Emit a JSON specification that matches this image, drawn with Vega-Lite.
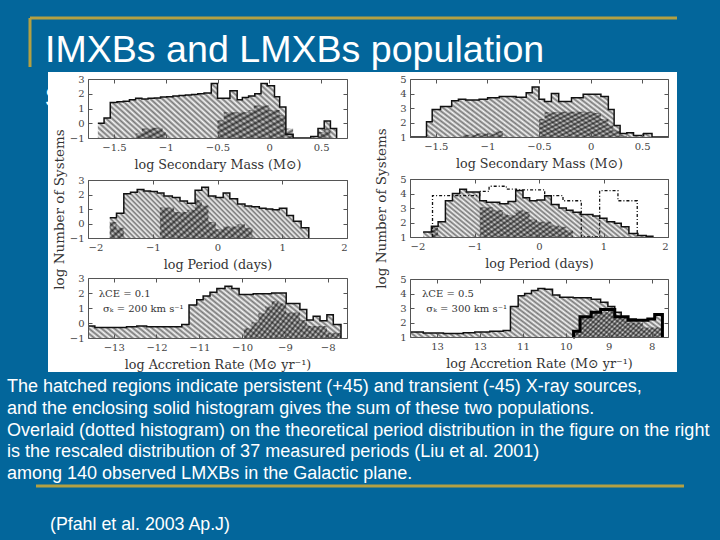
{"$schema":"https://vega.github.io/schema/vega-lite/v6.json","width":720,"height":540,"padding":0,"autosize":{"type":"none"},"background":"#03669b",
"config":{"view":{"stroke":null},"axis":{"grid":false,"labelFont":"DejaVu Serif","labelFontSize":10,"labelColor":"#444","titleFont":"DejaVu Serif","titleFontSize":12.7,"titleFontWeight":"normal","titleColor":"#333","domainColor":"#555","tickColor":"#555","tickSize":-4,"labelPadding":8},
"style":{"persist":{"opacity":1,"color":{"gradient":"linear","x1":0,"y1":1,"x2":1.18,"y2":0.7,"stops":[{"offset":0,"color":"#777"},{"offset":0.01,"color":"#f5f5f5"},{"offset":0.02,"color":"#777"},{"offset":0.03,"color":"#f5f5f5"},{"offset":0.04,"color":"#777"},{"offset":0.05,"color":"#f5f5f5"},{"offset":0.06,"color":"#777"},{"offset":0.07,"color":"#f5f5f5"},{"offset":0.08,"color":"#777"},{"offset":0.09,"color":"#f5f5f5"},{"offset":0.1,"color":"#777"},{"offset":0.11,"color":"#f5f5f5"},{"offset":0.12,"color":"#777"},{"offset":0.13,"color":"#f5f5f5"},{"offset":0.14,"color":"#777"},{"offset":0.15,"color":"#f5f5f5"},{"offset":0.16,"color":"#777"},{"offset":0.17,"color":"#f5f5f5"},{"offset":0.18,"color":"#777"},{"offset":0.19,"color":"#f5f5f5"},{"offset":0.2,"color":"#777"},{"offset":0.21,"color":"#f5f5f5"},{"offset":0.22,"color":"#777"},{"offset":0.23,"color":"#f5f5f5"},{"offset":0.24,"color":"#777"},{"offset":0.25,"color":"#f5f5f5"},{"offset":0.26,"color":"#777"},{"offset":0.27,"color":"#f5f5f5"},{"offset":0.28,"color":"#777"},{"offset":0.29,"color":"#f5f5f5"},{"offset":0.3,"color":"#777"},{"offset":0.31,"color":"#f5f5f5"},{"offset":0.32,"color":"#777"},{"offset":0.33,"color":"#f5f5f5"},{"offset":0.34,"color":"#777"},{"offset":0.35,"color":"#f5f5f5"},{"offset":0.36,"color":"#777"},{"offset":0.37,"color":"#f5f5f5"},{"offset":0.38,"color":"#777"},{"offset":0.39,"color":"#f5f5f5"},{"offset":0.4,"color":"#777"},{"offset":0.41,"color":"#f5f5f5"},{"offset":0.42,"color":"#777"},{"offset":0.43,"color":"#f5f5f5"},{"offset":0.44,"color":"#777"},{"offset":0.45,"color":"#f5f5f5"},{"offset":0.46,"color":"#777"},{"offset":0.47,"color":"#f5f5f5"},{"offset":0.48,"color":"#777"},{"offset":0.49,"color":"#f5f5f5"},{"offset":0.5,"color":"#777"},{"offset":0.51,"color":"#f5f5f5"},{"offset":0.52,"color":"#777"},{"offset":0.53,"color":"#f5f5f5"},{"offset":0.54,"color":"#777"},{"offset":0.55,"color":"#f5f5f5"},{"offset":0.56,"color":"#777"},{"offset":0.57,"color":"#f5f5f5"},{"offset":0.58,"color":"#777"},{"offset":0.59,"color":"#f5f5f5"},{"offset":0.6,"color":"#777"},{"offset":0.61,"color":"#f5f5f5"},{"offset":0.62,"color":"#777"},{"offset":0.63,"color":"#f5f5f5"},{"offset":0.64,"color":"#777"},{"offset":0.65,"color":"#f5f5f5"},{"offset":0.66,"color":"#777"},{"offset":0.67,"color":"#f5f5f5"},{"offset":0.68,"color":"#777"},{"offset":0.69,"color":"#f5f5f5"},{"offset":0.7,"color":"#777"},{"offset":0.71,"color":"#f5f5f5"},{"offset":0.72,"color":"#777"},{"offset":0.73,"color":"#f5f5f5"},{"offset":0.74,"color":"#777"},{"offset":0.75,"color":"#f5f5f5"},{"offset":0.76,"color":"#777"},{"offset":0.77,"color":"#f5f5f5"},{"offset":0.78,"color":"#777"},{"offset":0.79,"color":"#f5f5f5"},{"offset":0.8,"color":"#777"},{"offset":0.81,"color":"#f5f5f5"},{"offset":0.82,"color":"#777"},{"offset":0.83,"color":"#f5f5f5"},{"offset":0.84,"color":"#777"},{"offset":0.85,"color":"#f5f5f5"},{"offset":0.86,"color":"#777"},{"offset":0.87,"color":"#f5f5f5"},{"offset":0.88,"color":"#777"},{"offset":0.89,"color":"#f5f5f5"},{"offset":0.9,"color":"#777"},{"offset":0.91,"color":"#f5f5f5"},{"offset":0.92,"color":"#777"},{"offset":0.93,"color":"#f5f5f5"},{"offset":0.94,"color":"#777"},{"offset":0.95,"color":"#f5f5f5"},{"offset":0.96,"color":"#777"},{"offset":0.97,"color":"#f5f5f5"},{"offset":0.98,"color":"#777"},{"offset":0.99,"color":"#f5f5f5"},{"offset":1,"color":"#777"}]}},
"trans":{"opacity":1,"color":{"gradient":"linear","x1":0,"y1":0,"x2":1.19,"y2":0.36,"stops":[{"offset":0,"color":"rgba(0,0,0,0.65)"},{"offset":0.02,"color":"rgba(0,0,0,0.1)"},{"offset":0.04,"color":"rgba(0,0,0,0.65)"},{"offset":0.06,"color":"rgba(0,0,0,0.1)"},{"offset":0.08,"color":"rgba(0,0,0,0.65)"},{"offset":0.1,"color":"rgba(0,0,0,0.1)"},{"offset":0.12,"color":"rgba(0,0,0,0.65)"},{"offset":0.14,"color":"rgba(0,0,0,0.1)"},{"offset":0.16,"color":"rgba(0,0,0,0.65)"},{"offset":0.18,"color":"rgba(0,0,0,0.1)"},{"offset":0.2,"color":"rgba(0,0,0,0.65)"},{"offset":0.22,"color":"rgba(0,0,0,0.1)"},{"offset":0.24,"color":"rgba(0,0,0,0.65)"},{"offset":0.26,"color":"rgba(0,0,0,0.1)"},{"offset":0.28,"color":"rgba(0,0,0,0.65)"},{"offset":0.3,"color":"rgba(0,0,0,0.1)"},{"offset":0.32,"color":"rgba(0,0,0,0.65)"},{"offset":0.34,"color":"rgba(0,0,0,0.1)"},{"offset":0.36,"color":"rgba(0,0,0,0.65)"},{"offset":0.38,"color":"rgba(0,0,0,0.1)"},{"offset":0.4,"color":"rgba(0,0,0,0.65)"},{"offset":0.42,"color":"rgba(0,0,0,0.1)"},{"offset":0.44,"color":"rgba(0,0,0,0.65)"},{"offset":0.46,"color":"rgba(0,0,0,0.1)"},{"offset":0.48,"color":"rgba(0,0,0,0.65)"},{"offset":0.5,"color":"rgba(0,0,0,0.1)"},{"offset":0.52,"color":"rgba(0,0,0,0.65)"},{"offset":0.54,"color":"rgba(0,0,0,0.1)"},{"offset":0.56,"color":"rgba(0,0,0,0.65)"},{"offset":0.58,"color":"rgba(0,0,0,0.1)"},{"offset":0.6,"color":"rgba(0,0,0,0.65)"},{"offset":0.62,"color":"rgba(0,0,0,0.1)"},{"offset":0.64,"color":"rgba(0,0,0,0.65)"},{"offset":0.66,"color":"rgba(0,0,0,0.1)"},{"offset":0.68,"color":"rgba(0,0,0,0.65)"},{"offset":0.7,"color":"rgba(0,0,0,0.1)"},{"offset":0.72,"color":"rgba(0,0,0,0.65)"},{"offset":0.74,"color":"rgba(0,0,0,0.1)"},{"offset":0.76,"color":"rgba(0,0,0,0.65)"},{"offset":0.78,"color":"rgba(0,0,0,0.1)"},{"offset":0.8,"color":"rgba(0,0,0,0.65)"},{"offset":0.82,"color":"rgba(0,0,0,0.1)"},{"offset":0.84,"color":"rgba(0,0,0,0.65)"},{"offset":0.86,"color":"rgba(0,0,0,0.1)"},{"offset":0.88,"color":"rgba(0,0,0,0.65)"},{"offset":0.9,"color":"rgba(0,0,0,0.1)"},{"offset":0.92,"color":"rgba(0,0,0,0.65)"},{"offset":0.94,"color":"rgba(0,0,0,0.1)"},{"offset":0.96,"color":"rgba(0,0,0,0.65)"},{"offset":0.98,"color":"rgba(0,0,0,0.1)"},{"offset":1,"color":"rgba(0,0,0,0.65)"}]}}}},
"datasets":{
"one":[{"k":1}],
"body":[{"line":1,"text":"The hatched regions indicate persistent (+45) and transient (-45) X-ray sources,"},{"line":2,"text":"and the enclosing solid histogram gives the sum of these two populations."},{"line":3,"text":"Overlaid (dotted histogram) on the theoretical period distribution in the figure on the right"},{"line":4,"text":"is the rescaled distribution of 37 measured periods (Liu et al. 2001)"},{"line":5,"text":"among 140 observed LMXBs in the Galactic plane."}],
"p1s":[{"x":-1.655,"y":0},{"x":-1.595,"y":0.35},{"x":-1.535,"y":1.4},{"x":-1.47,"y":1.45},{"x":-1.41,"y":1.5},{"x":-1.35,"y":1.6},{"x":-1.29,"y":1.7},{"x":-1.23,"y":1.65},{"x":-1.17,"y":1.7},{"x":-1.11,"y":1.72},{"x":-1.05,"y":1.78},{"x":-0.99,"y":1.8},{"x":-0.93,"y":1.85},{"x":-0.87,"y":1.88},{"x":-0.81,"y":1.92},{"x":-0.75,"y":1.95},{"x":-0.69,"y":2},{"x":-0.63,"y":2.05},{"x":-0.56,"y":2.7},{"x":-0.5,"y":1.7},{"x":-0.38,"y":2.2},{"x":-0.31,"y":1.6},{"x":-0.26,"y":1.75},{"x":-0.2,"y":1.85},{"x":-0.14,"y":2},{"x":-0.08,"y":2.7},{"x":-0.02,"y":2.55},{"x":0.05,"y":1.8},{"x":0.1,"y":1.1},{"x":0.16,"y":-0.75},{"x":0.23,"y":-1},{"x":0.4,"y":-0.9},{"x":0.47,"y":-0.35},{"x":0.53,"y":0.15},{"x":0.59,"y":-0.35},{"x":0.65,"y":-1}],
"p1t":[{"x":-1.29,"y":-0.7},{"x":-1.23,"y":-0.35},{"x":-1.13,"y":-0.3},{"x":-1.03,"y":-0.6},{"x":-1,"y":-1},{"x":-0.5,"y":0.2},{"x":-0.44,"y":0.75},{"x":-0.2,"y":0.9},{"x":-0.15,"y":1.2},{"x":0,"y":0.9},{"x":0.1,"y":0.55},{"x":0.16,"y":-0.35},{"x":0.23,"y":-1},{"x":0.47,"y":-0.6},{"x":0.53,"y":-0.35},{"x":0.59,"y":-1}],
"p2s":[{"x":-1.664,"y":0.4},{"x":-1.56,"y":0.7},{"x":-1.447,"y":2.05},{"x":-1.344,"y":2.15},{"x":-1.24,"y":2.35},{"x":-1.137,"y":2.25},{"x":-1.034,"y":2.2},{"x":-0.93,"y":2.1},{"x":-0.827,"y":1.9},{"x":-0.698,"y":1.8},{"x":-0.579,"y":1.55},{"x":-0.465,"y":1.4},{"x":-0.346,"y":2.3},{"x":-0.243,"y":2.5},{"x":-0.14,"y":1.9},{"x":-0.026,"y":1.8},{"x":0.088,"y":2.1},{"x":0.19,"y":1.7},{"x":0.31,"y":1.35},{"x":0.424,"y":1.2},{"x":0.527,"y":1.15},{"x":0.646,"y":1.05},{"x":0.749,"y":1},{"x":0.853,"y":0.95},{"x":0.956,"y":1.05},{"x":1.07,"y":0.55},{"x":1.173,"y":0.15},{"x":1.292,"y":-0.3},{"x":1.41,"y":-1}],
"p2t":[{"x":-1.664,"y":0.1},{"x":-1.56,"y":-0.3},{"x":-1.447,"y":-1},{"x":-0.89,"y":1.1},{"x":-0.67,"y":0.8},{"x":-0.465,"y":0.95},{"x":-0.346,"y":1.6},{"x":-0.243,"y":1.25},{"x":-0.14,"y":0.1},{"x":-0.026,"y":-0.4},{"x":0.088,"y":-0.2},{"x":0.31,"y":-0.05},{"x":0.424,"y":-0.3},{"x":0.54,"y":-1}],
"p3s":[{"x":-13.6,"y":-0.2},{"x":-13.44,"y":-0.3},{"x":-12.7,"y":-0.25},{"x":-12.46,"y":-0.2},{"x":-12.23,"y":-0.25},{"x":-11.41,"y":-0.1},{"x":-11.24,"y":1.2},{"x":-11.06,"y":1.55},{"x":-10.91,"y":1.8},{"x":-10.75,"y":2.05},{"x":-10.59,"y":2.3},{"x":-10.4,"y":2.45},{"x":-10.24,"y":2.3},{"x":-10.07,"y":1.9},{"x":-9.74,"y":1.95},{"x":-9.31,"y":2},{"x":-8.97,"y":1.3},{"x":-8.65,"y":0.9},{"x":-8.49,"y":0.2},{"x":-8.34,"y":0.45},{"x":-8.18,"y":0.15},{"x":-8.02,"y":0.55},{"x":-7.87,"y":-0.1},{"x":-7.69,"y":-1}],
"p3t":[{"x":-9.96,"y":-0.35},{"x":-9.78,"y":0.05},{"x":-9.62,"y":0.65},{"x":-9.46,"y":1.1},{"x":-9.31,"y":1.45},{"x":-9.15,"y":1.3},{"x":-8.97,"y":0.7},{"x":-8.65,"y":0.2},{"x":-8.49,"y":-0.2},{"x":-8.02,"y":-0.65},{"x":-7.69,"y":-1}],
"p4s":[{"x":-1.75,"y":1},{"x":-1.59,"y":2.05},{"x":-1.535,"y":2.9},{"x":-1.454,"y":3.1},{"x":-1.346,"y":3.5},{"x":-1.281,"y":3.6},{"x":-1.21,"y":3.55},{"x":-1.08,"y":3.6},{"x":-0.998,"y":3.7},{"x":-0.885,"y":3.8},{"x":-0.722,"y":3.75},{"x":-0.624,"y":4.05},{"x":-0.566,"y":4.45},{"x":-0.5,"y":3.6},{"x":-0.446,"y":3.45},{"x":-0.38,"y":4},{"x":-0.309,"y":3.45},{"x":-0.185,"y":3.7},{"x":-0.072,"y":3.95},{"x":0.1,"y":3.8},{"x":0.172,"y":2.9},{"x":0.228,"y":1.8},{"x":0.286,"y":1.25},{"x":0.351,"y":1.3},{"x":0.416,"y":1.1},{"x":0.514,"y":1.25},{"x":0.595,"y":1},{"x":0.75,"y":1}],
"p4t":[{"x":-1.24,"y":1.15},{"x":-1.11,"y":1.25},{"x":-0.92,"y":1.4},{"x":-0.85,"y":1},{"x":-0.5,"y":2.25},{"x":-0.446,"y":2.7},{"x":-0.3,"y":2.75},{"x":0.04,"y":2.65},{"x":0.1,"y":2.25},{"x":0.172,"y":1.85},{"x":0.22,"y":1.45},{"x":0.286,"y":1.1},{"x":0.351,"y":1}],
"p5s":[{"x":-1.797,"y":1.35},{"x":-1.668,"y":1.75},{"x":-1.564,"y":2.05},{"x":-1.451,"y":3.5},{"x":-1.342,"y":4},{"x":-1.229,"y":4.3},{"x":-1.125,"y":4.1},{"x":-0.919,"y":3.5},{"x":-0.816,"y":3.4},{"x":-0.609,"y":3.3},{"x":-0.48,"y":3.45},{"x":-0.361,"y":4.2},{"x":-0.248,"y":3.7},{"x":-0.145,"y":3.5},{"x":-0.031,"y":3.55},{"x":0.088,"y":3.85},{"x":0.191,"y":3.25},{"x":0.31,"y":3},{"x":0.423,"y":2.85},{"x":0.527,"y":2.7},{"x":0.64,"y":2.55},{"x":0.836,"y":2.45},{"x":0.94,"y":2.3},{"x":1.053,"y":2.05},{"x":1.172,"y":1.95},{"x":1.275,"y":1.7},{"x":1.394,"y":1.25},{"x":1.533,"y":1.1},{"x":1.662,"y":1.05},{"x":1.766,"y":1}],
"p5t":[{"x":-1.668,"y":1.7},{"x":-1.564,"y":1},{"x":-0.919,"y":3.05},{"x":-0.712,"y":2.85},{"x":-0.558,"y":2.55},{"x":-0.48,"y":2.5},{"x":-0.361,"y":2.85},{"x":-0.248,"y":2.75},{"x":-0.145,"y":2.2},{"x":-0.031,"y":2.05},{"x":0.191,"y":1.8},{"x":0.31,"y":1.7},{"x":0.423,"y":1.45},{"x":0.527,"y":1}],
"p5o":[{"x":-1.652,"y":1},{"x":-1.651,"y":3.85},{"x":-0.919,"y":4.15},{"x":-0.774,"y":4.5},{"x":-0.506,"y":4.3},{"x":-0.351,"y":4.25},{"x":0.088,"y":3.85},{"x":0.372,"y":3.5},{"x":0.656,"y":1},{"x":0.94,"y":4.2},{"x":1.224,"y":3.5},{"x":1.523,"y":1}],
"p6s":[{"x":-13.63,"y":1.35},{"x":-13.32,"y":1.28},{"x":-12.85,"y":1.25},{"x":-12.39,"y":1.3},{"x":-12.12,"y":1.35},{"x":-11.77,"y":1.4},{"x":-11.46,"y":1.45},{"x":-11.29,"y":3.1},{"x":-11.11,"y":3.85},{"x":-10.96,"y":4},{"x":-10.8,"y":4.2},{"x":-10.65,"y":4.35},{"x":-10.49,"y":4.3},{"x":-10.31,"y":3.9},{"x":-10.14,"y":3.75},{"x":-9.83,"y":3.7},{"x":-9.41,"y":3.6},{"x":-9.19,"y":3.4},{"x":-9.02,"y":3.1},{"x":-8.86,"y":2.7},{"x":-8.71,"y":2.4},{"x":-8.55,"y":2.25},{"x":-8.36,"y":2.15},{"x":-8.09,"y":2.25},{"x":-7.93,"y":2.55},{"x":-7.75,"y":1}],
"p6t":[{"x":-9.83,"y":1.4},{"x":-9.67,"y":2.35},{"x":-9.41,"y":2.7},{"x":-9.02,"y":2.9},{"x":-8.86,"y":2.4},{"x":-8.55,"y":2},{"x":-8.2,"y":1.65},{"x":-7.75,"y":1}],
"p6b":[{"x":-9.83,"y":1},{"x":-9.82,"y":1.4},{"x":-9.67,"y":2.4},{"x":-9.41,"y":2.7},{"x":-9.19,"y":2.9},{"x":-8.86,"y":2.4},{"x":-8.55,"y":2.15},{"x":-8.09,"y":2.25},{"x":-7.93,"y":2.55},{"x":-7.75,"y":1}]
},
"data":{"name":"one"},
"resolve":{"scale":{"x":"independent","y":"independent"}},
"layer":[
{"encoding":{"x":{"datum":45,"type":"quantitative","scale":{"domain":[0,720],"range":[0,720]},"axis":null},"y":{"datum":62,"type":"quantitative","scale":{"domain":[0,540],"range":[0,540]},"axis":null}},
"layer":[
{"mark":{"type":"text","text":"IMXBs and LMXBs population","font":"Liberation Sans","fontSize":37.6,"color":"#fff","align":"left","baseline":"alphabetic"}},
{"mark":{"type":"text","text":"s","font":"Liberation Sans","fontSize":37.6,"color":"#fff","align":"left","baseline":"alphabetic"},"encoding":{"y":{"datum":107,"type":"quantitative"}}},
{"mark":{"type":"rect","fill":"#fff"},"encoding":{"x":{"datum":48,"type":"quantitative"},"x2":{"datum":677},"y":{"datum":72,"type":"quantitative"},"y2":{"datum":372}}},
{"mark":{"type":"rule","color":"#b3a043","strokeWidth":3},"encoding":{"x":{"datum":30,"type":"quantitative"},"x2":{"datum":677},"y":{"datum":18,"type":"quantitative"}}},
{"mark":{"type":"rule","color":"#b3a043","strokeWidth":3},"encoding":{"x":{"datum":30,"type":"quantitative"},"y":{"datum":18,"type":"quantitative"},"y2":{"datum":67}}},
{"mark":{"type":"rule","color":"#b3a043","strokeWidth":3},"encoding":{"x":{"datum":36,"type":"quantitative"},"x2":{"datum":684},"y":{"datum":486,"type":"quantitative"}}},
{"mark":{"type":"text","text":"(Pfahl et al. 2003 Ap.J)","font":"Liberation Sans","fontSize":17.8,"color":"#fff","align":"left","baseline":"middle"},"encoding":{"x":{"datum":50,"type":"quantitative"},"y":{"datum":525,"type":"quantitative"}}}
]},
{"data":{"name":"body"},"mark":{"type":"text","font":"Liberation Sans","fontSize":18,"color":"#fff","align":"left","baseline":"middle"},"encoding":{"x":{"datum":7,"type":"quantitative","scale":{"domain":[0,720],"range":[0,720]},"axis":null},"y":{"field":"line","type":"quantitative","scale":{"domain":[1,5],"range":[387,474]},"axis":null},"text":{"field":"text"}}},

{"encoding":{"x":{"field":"x","type":"quantitative","scale":{"domain":[-1.75,0.75],"range":[88,347]},"axis":{"zindex":1,"orient":"bottom","offset":-402,"title":"log Secondary Mass (M⊙)","titlePadding":6,"values":[-1.5,-1,-0.5,0,0.5],"format":"~g"}},"y":{"field":"y","type":"quantitative","scale":{"domain":[-1,3],"range":[138,79]},"axis":{"zindex":1,"orient":"left","offset":-88,"title":null,"values":[-1,0,1,2,3]}}},
"layer":[{"data":{"name":"p1s"},"mark":{"type":"area","interpolate":"step-after","style":"persist"},"encoding":{"y2":{"datum":-1}}},{"data":{"name":"p1t"},"mark":{"type":"area","interpolate":"step-after","style":"trans"},"encoding":{"y2":{"datum":-1}}},{"data":{"name":"p1s"},"mark":{"type":"line","interpolate":"step-after","color":"#111","strokeWidth":1.5}}]},
{"mark":{"type":"point","opacity":0},"encoding":{"x":{"datum":0,"type":"quantitative","scale":{"domain":[-1.75,0.75],"range":[88,347]},"axis":{"zindex":1,"orient":"top","offset":-79,"title":null,"labels":false,"values":[-1.5,-1,-0.5,0,0.5]}},"y":{"datum":0,"type":"quantitative","scale":{"domain":[-1,3],"range":[138,79]},"axis":{"zindex":1,"orient":"right","offset":-373,"title":null,"labels":false,"values":[-1,0,1,2,3]}}}},

{"encoding":{"x":{"field":"x","type":"quantitative","scale":{"domain":[-2,2],"range":[88,347]},"axis":{"zindex":1,"orient":"bottom","offset":-302,"title":"log Period (days)","titlePadding":6,"values":[-2,-1,0,1,2]}},"y":{"field":"y","type":"quantitative","scale":{"domain":[-1,3],"range":[238,180]},"axis":{"zindex":1,"orient":"left","offset":-88,"title":"log Number of Systems","titleFontSize":13.5,"titlePadding":3,"values":[-1,0,1,2,3]}}},
"layer":[{"data":{"name":"p2s"},"mark":{"type":"area","interpolate":"step-after","style":"persist"},"encoding":{"y2":{"datum":-1}}},{"data":{"name":"p2t"},"mark":{"type":"area","interpolate":"step-after","style":"trans"},"encoding":{"y2":{"datum":-1}}},{"data":{"name":"p2s"},"mark":{"type":"line","interpolate":"step-after","color":"#111","strokeWidth":1.5}}]},
{"mark":{"type":"point","opacity":0},"encoding":{"x":{"datum":0,"type":"quantitative","scale":{"domain":[-2,2],"range":[88,347]},"axis":{"zindex":1,"orient":"top","offset":-180,"title":null,"labels":false,"values":[-2,-1,0,1,2]}},"y":{"datum":0,"type":"quantitative","scale":{"domain":[-1,3],"range":[238,180]},"axis":{"zindex":1,"orient":"right","offset":-373,"title":null,"labels":false,"values":[-1,0,1,2,3]}}}},

{"encoding":{"x":{"field":"x","type":"quantitative","scale":{"domain":[-13.6,-7.55],"range":[88,347]},"axis":{"zindex":1,"orient":"bottom","offset":-202,"title":"log Accretion Rate (M⊙ yr⁻¹)","titlePadding":6,"values":[-13,-12,-11,-10,-9,-8]}},"y":{"field":"y","type":"quantitative","scale":{"domain":[-1,3],"range":[338,278]},"axis":{"zindex":1,"orient":"left","offset":-88,"title":null,"values":[-1,0,1,2,3]}}},
"layer":[{"data":{"name":"p3s"},"mark":{"type":"area","interpolate":"step-after","style":"persist"},"encoding":{"y2":{"datum":-1}}},{"data":{"name":"p3t"},"mark":{"type":"area","interpolate":"step-after","style":"trans"},"encoding":{"y2":{"datum":-1}}},{"data":{"name":"p3s"},"mark":{"type":"line","interpolate":"step-after","color":"#111","strokeWidth":1.5}}]},
{"mark":{"type":"point","opacity":0},"encoding":{"x":{"datum":-10,"type":"quantitative","scale":{"domain":[-13.6,-7.55],"range":[88,347]},"axis":{"zindex":1,"orient":"top","offset":-278,"title":null,"labels":false,"values":[-13,-12,-11,-10,-9,-8]}},"y":{"datum":0,"type":"quantitative","scale":{"domain":[-1,3],"range":[338,278]},"axis":{"zindex":1,"orient":"right","offset":-373,"title":null,"labels":false,"values":[-1,0,1,2,3]}}}},
{"mark":{"type":"text","text":"λCE = 0.1","font":"DejaVu Serif","fontSize":10,"color":"#333","align":"left"},"encoding":{"x":{"datum":-13.35,"type":"quantitative","scale":{"domain":[-13.6,-7.55],"range":[88,347]},"axis":null},"y":{"datum":1.93,"type":"quantitative","scale":{"domain":[-1,3],"range":[338,278]},"axis":null}}},
{"mark":{"type":"text","text":"σₖ = 200 km s⁻¹","font":"DejaVu Serif","fontSize":10,"color":"#333","align":"left"},"encoding":{"x":{"datum":-13.25,"type":"quantitative","scale":{"domain":[-13.6,-7.55],"range":[88,347]},"axis":null},"y":{"datum":0.93,"type":"quantitative","scale":{"domain":[-1,3],"range":[338,278]},"axis":null}}},

{"encoding":{"x":{"field":"x","type":"quantitative","scale":{"domain":[-1.75,0.75],"range":[410,668]},"axis":{"zindex":1,"orient":"bottom","offset":-403,"title":"log Secondary Mass (M⊙)","titlePadding":6,"values":[-1.5,-1,-0.5,0,0.5],"format":"~g"}},"y":{"field":"y","type":"quantitative","scale":{"domain":[1,5],"range":[137,79]},"axis":{"zindex":1,"orient":"left","offset":-410,"title":null,"values":[1,2,3,4,5]}}},
"layer":[{"data":{"name":"p4s"},"mark":{"type":"area","interpolate":"step-after","style":"persist"},"encoding":{"y2":{"datum":1}}},{"data":{"name":"p4t"},"mark":{"type":"area","interpolate":"step-after","style":"trans"},"encoding":{"y2":{"datum":1}}},{"data":{"name":"p4s"},"mark":{"type":"line","interpolate":"step-after","color":"#111","strokeWidth":1.5}}]},
{"mark":{"type":"point","opacity":0},"encoding":{"x":{"datum":0,"type":"quantitative","scale":{"domain":[-1.75,0.75],"range":[410,668]},"axis":{"zindex":1,"orient":"top","offset":-79,"title":null,"labels":false,"values":[-1.5,-1,-0.5,0,0.5]}},"y":{"datum":3,"type":"quantitative","scale":{"domain":[1,5],"range":[137,79]},"axis":{"zindex":1,"orient":"right","offset":-52,"title":null,"labels":false,"values":[1,2,3,4,5]}}}},

{"encoding":{"x":{"field":"x","type":"quantitative","scale":{"domain":[-2,2],"range":[410,668]},"axis":{"zindex":1,"orient":"bottom","offset":-303,"title":"log Period (days)","titlePadding":6,"values":[-2,-1,0,1,2]}},"y":{"field":"y","type":"quantitative","scale":{"domain":[1,5],"range":[237,179]},"axis":{"zindex":1,"orient":"left","offset":-410,"title":"log Number of Systems","titleFontSize":13.5,"titlePadding":11,"values":[1,2,3,4,5]}}},
"layer":[{"data":{"name":"p5s"},"mark":{"type":"area","interpolate":"step-after","style":"persist"},"encoding":{"y2":{"datum":1}}},{"data":{"name":"p5t"},"mark":{"type":"area","interpolate":"step-after","style":"trans"},"encoding":{"y2":{"datum":1}}},{"data":{"name":"p5s"},"mark":{"type":"line","interpolate":"step-after","color":"#111","strokeWidth":1.5}},{"data":{"name":"p5o"},"mark":{"type":"line","interpolate":"step-after","color":"#111","strokeWidth":1.3,"strokeDash":[3,2,1,2]}}]},
{"mark":{"type":"point","opacity":0},"encoding":{"x":{"datum":0,"type":"quantitative","scale":{"domain":[-2,2],"range":[410,668]},"axis":{"zindex":1,"orient":"top","offset":-179,"title":null,"labels":false,"values":[-2,-1,0,1,2]}},"y":{"datum":3,"type":"quantitative","scale":{"domain":[1,5],"range":[237,179]},"axis":{"zindex":1,"orient":"right","offset":-52,"title":null,"labels":false,"values":[1,2,3,4,5]}}}},

{"encoding":{"x":{"field":"x","type":"quantitative","scale":{"domain":[-13.63,-7.62],"range":[410,668]},"axis":{"zindex":1,"orient":"bottom","offset":-203,"title":"log Accretion Rate (M⊙ yr⁻¹)","titlePadding":6,"values":[-13,-12,-11,-10,-9,-8],"labelExpr":"datum.value==-12?'13':format(abs(datum.value),'d')"}},"y":{"field":"y","type":"quantitative","scale":{"domain":[1,5],"range":[337,279]},"axis":{"zindex":1,"orient":"left","offset":-410,"title":null,"values":[1,2,3,4,5]}}},
"layer":[{"data":{"name":"p6s"},"mark":{"type":"area","interpolate":"step-after","style":"persist"},"encoding":{"y2":{"datum":1}}},{"data":{"name":"p6t"},"mark":{"type":"area","interpolate":"step-after","style":"trans"},"encoding":{"y2":{"datum":1}}},{"data":{"name":"p6s"},"mark":{"type":"line","interpolate":"step-after","color":"#111","strokeWidth":1.5}},{"data":{"name":"p6b"},"mark":{"type":"line","interpolate":"step-after","color":"#000","strokeWidth":3}}]},
{"mark":{"type":"point","opacity":0},"encoding":{"x":{"datum":-10,"type":"quantitative","scale":{"domain":[-13.63,-7.62],"range":[410,668]},"axis":{"zindex":1,"orient":"top","offset":-279,"title":null,"labels":false,"values":[-13,-12,-11,-10,-9,-8]}},"y":{"datum":3,"type":"quantitative","scale":{"domain":[1,5],"range":[337,279]},"axis":{"zindex":1,"orient":"right","offset":-52,"title":null,"labels":false,"values":[1,2,3,4,5]}}}},
{"mark":{"type":"text","text":"λCE = 0.5","font":"DejaVu Serif","fontSize":10,"color":"#333","align":"left"},"encoding":{"x":{"datum":-13.35,"type":"quantitative","scale":{"domain":[-13.63,-7.62],"range":[410,668]},"axis":null},"y":{"datum":3.95,"type":"quantitative","scale":{"domain":[1,5],"range":[337,279]},"axis":null}}},
{"mark":{"type":"text","text":"σₖ = 300 km s⁻¹","font":"DejaVu Serif","fontSize":10,"color":"#333","align":"left"},"encoding":{"x":{"datum":-13.25,"type":"quantitative","scale":{"domain":[-13.63,-7.62],"range":[410,668]},"axis":null},"y":{"datum":2.95,"type":"quantitative","scale":{"domain":[1,5],"range":[337,279]},"axis":null}}}
]}
